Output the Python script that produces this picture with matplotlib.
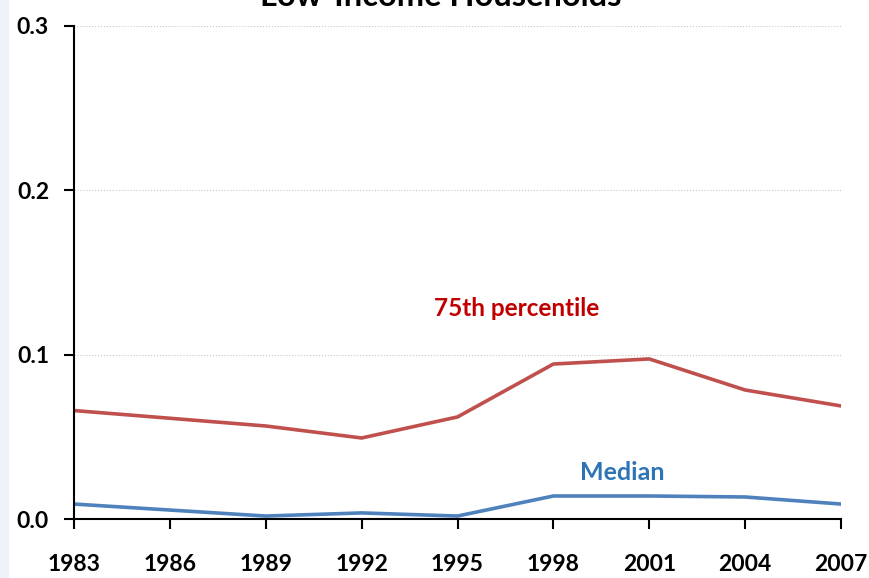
import matplotlib
matplotlib.use('Agg')
import matplotlib.pyplot as plt
from matplotlib.patches import Rectangle

# Survey years and values
years = [1983, 1989, 1992, 1995, 1998, 2001, 2004, 2007]
pct75 = [0.066, 0.0566, 0.0493, 0.0621, 0.0943, 0.0974, 0.0785, 0.0688]
median = [0.0091, 0.0018, 0.0037, 0.0018, 0.014, 0.014, 0.0134, 0.0091]
xticks = [1983, 1986, 1989, 1992, 1995, 1998, 2001, 2004, 2007]
yticks = [0.0, 0.1, 0.2, 0.3]

plt.rcParams['font.family'] = ['Lato', 'DejaVu Sans']
plt.rcParams['font.weight'] = 'bold'

fig = plt.figure(figsize=(8.69, 5.78), dpi=100)
fig.patches.append(Rectangle((0, 0), 9 / 869, 1, transform=fig.transFigure,
                             facecolor='#eef3f9', edgecolor='none'))
ax = fig.add_axes([74 / 869, 59 / 578, 767 / 869, 493 / 578])

ax.plot(years, pct75, color='#c0504d', lw=2.6, solid_joinstyle='miter')
ax.plot(years, median, color='#4f81bd', lw=2.6, solid_joinstyle='miter')

ax.set_xlim(1983, 2007)
ax.set_ylim(0, 0.3)
ax.set_xticks(xticks)
ax.set_yticks(yticks)
ax.set_yticklabels([f'{v:.1f}' for v in yticks])
ax.tick_params(axis='x', direction='out', length=7, width=1.5, pad=18, labelsize=16.5)
ax.tick_params(axis='y', direction='out', length=7, width=1.5, pad=11, labelsize=16.5)
for lab in ax.get_xticklabels() + ax.get_yticklabels():
    lab.set_fontweight('bold')

for side in ['top', 'right']:
    ax.spines[side].set_visible(False)
ax.spines['left'].set_linewidth(1.5)
ax.spines['bottom'].set_linewidth(1.5)
ax.grid(axis='y', color='#c8c8c8', linestyle=':', linewidth=0.8)
ax.set_axisbelow(True)

ax.text(1996.86, 0.128, '75th percentile', color='#c00000', fontsize=17.5,
        fontweight='bold', ha='center', va='center')
ax.text(2000.15, 0.028, 'Median', color='#2e75b6', fontsize=18,
        fontweight='bold', ha='center', va='center')

fig.text(441 / 869, 1 - 6 / 578, 'Low-Income Households', ha='center',
         va='baseline', fontsize=23.5, fontweight='bold')

fig.savefig('out.png', dpi=100)
